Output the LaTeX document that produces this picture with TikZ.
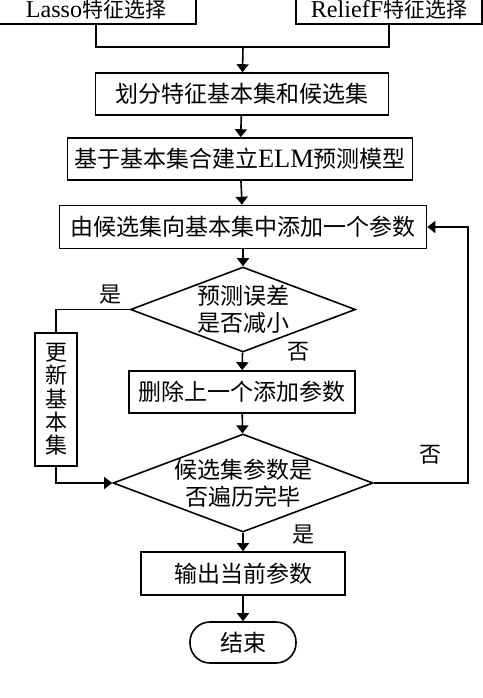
\documentclass[tikz,border=0pt]{standalone}
\usepackage{fontspec}
\setmainfont[Scale=1.15]{Liberation Serif}
\newfontfamily\cjk{Noto Sans CJK SC}
\usetikzlibrary{shapes.geometric,arrows.meta}
\newcommand{\zh}[1]{{\cjk #1}}
\newlength{\du}
\setlength{\du}{1pt}
\tikzset{
  flowbox/.style={draw, line width=1.6\du, inner sep=0pt, font=\fontsize{23}{25}\selectfont},
  decide/.style={draw, diamond, line width=1.6\du, inner sep=0pt},
  decidetext/.style={align=center, font=\fontsize{23}{27.5}\selectfont},
  flowline/.style={line width=1.6\du},
  flowarrow/.style={line width=1.6\du, -{Triangle[width=12pt,length=8pt]}},
  branch/.style={font=\fontsize{22}{24}\selectfont}
}

\begin{document}
\begin{tikzpicture}
\pgftransformxscale{1.000000}
\pgftransformyscale{-1.000000}
\useasboundingbox (0\du,0\du) rectangle (482\du,698\du);
% feature selection
\node[flowbox, minimum width=200\du, minimum height=28\du, font=\fontsize{21}{23}\selectfont] (lasso) at (96\du,10\du) {Lasso\zh{特征选择}};
\node[flowbox, minimum width=186\du, minimum height=28\du, font=\fontsize{21}{23}\selectfont] (relief) at (389\du,10\du) {ReliefF\zh{特征选择}};
\coordinate (join) at (243\du,47\du);
% main steps
\node[flowbox, minimum width=293\du, minimum height=42\du] (split) at (242\du,94\du) {\zh{划分特征基本集和候选集}};
\node[flowbox, minimum width=345\du, minimum height=42\du] (build) at (240\du,159\du) {\zh{基于基本集合建立}ELM\zh{预测模型}};
\node[flowbox, minimum width=367\du, minimum height=43\du] (addp) at (243\du,227\du) {\zh{由候选集向基本集中添加一个参数}};
\node[decide, minimum width=225\du, minimum height=85\du] (dec1) at (243\du,309.5\du) {};
\node[decidetext] (dec1txt) at (dec1.center) {\zh{预测误差}\\\zh{是否减小}};
\node[flowbox, minimum width=42\du, minimum height=133\du, align=center, font=\fontsize{22}{23.3}\selectfont] (upd) at (56\du,399.5\du) {\zh{更}\\\zh{新}\\\zh{基}\\\zh{本}\\\zh{集}};
\node[flowbox, minimum width=226\du, minimum height=42\du] (del) at (242\du,392\du) {\zh{删除上一个添加参数}};
\node[decide, minimum width=260\du, minimum height=98\du] (dec2) at (243\du,483\du) {};
\node[decidetext] (dec2txt) at (dec2.center) {\zh{候选集参数是}\\\zh{否遍历完毕}};
\coordinate (back) at (468\du,227\du);
\node[flowbox, minimum width=204\du, minimum height=43\du] (out) at (243\du,573.5\du) {\zh{输出当前参数}};
\node[flowbox, rounded corners=20\du, minimum width=106\du, minimum height=41\du] (end) at (243\du,642.5\du) {\zh{结束}};
% branch labels
\node[branch] (yes1) at (110\du,295\du) {\zh{是}};
\node[branch] (no1) at (298\du,352\du) {\zh{否}};
\node[branch] (no2) at (430\du,455\du) {\zh{否}};
\node[branch] (yes2) at (303\du,535\du) {\zh{是}};
% connectors
\draw[flowline] (lasso.south) |- (join);
\draw[flowline] (relief.south) |- (join);
\draw[flowarrow] (join) -- (split);
\draw[flowarrow] (split) -- (build);
\draw[flowarrow] (build) -- (addp);
\draw[flowarrow] (addp) -- (dec1);
\draw[flowline] (dec1.west) -| (upd.north);
\draw[flowarrow] (upd.south) |- (dec2.west);
\draw[flowarrow] (dec1) -- (del);
\draw[flowarrow] (del) -- (dec2);
\draw[flowarrow] (dec2.east) -| (back) -- (addp.east);
\draw[flowarrow] (dec2) -- (out);
\draw[flowarrow] (out) -- (end);
\end{tikzpicture}
\end{document}
